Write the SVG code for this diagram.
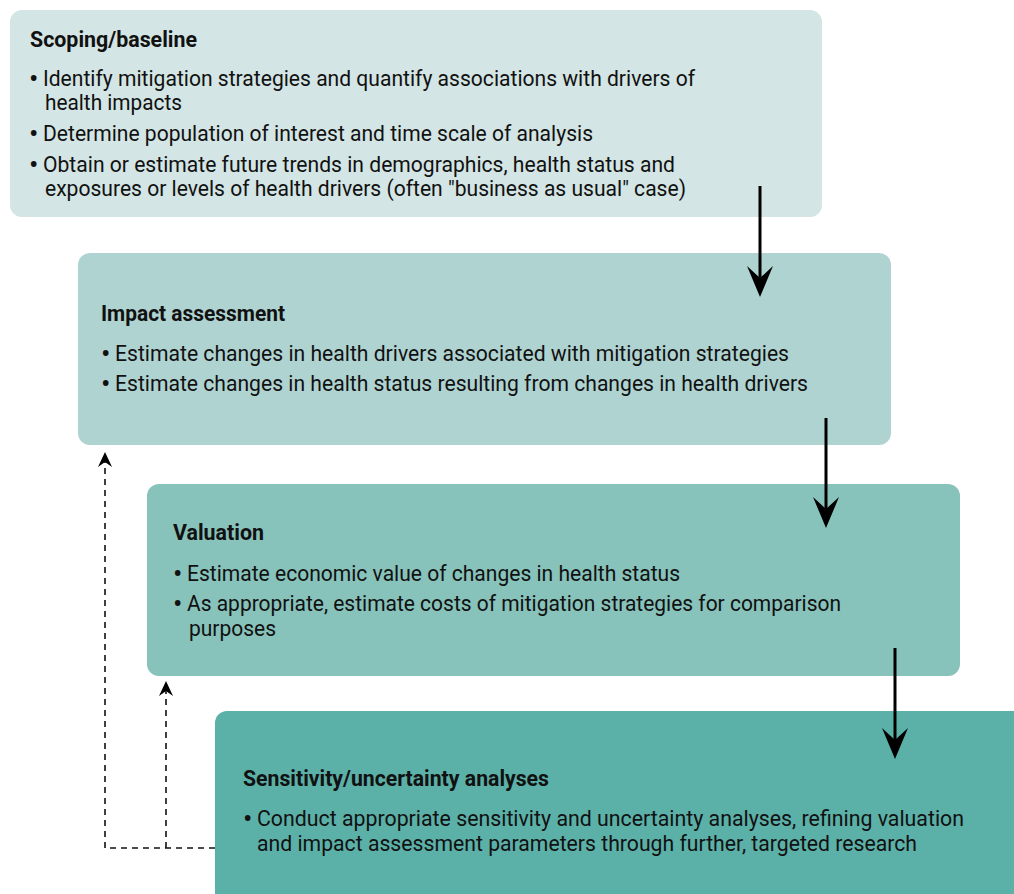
<svg xmlns="http://www.w3.org/2000/svg" width="1014" height="894" viewBox="0 0 1014 894">
<style>
text{font-family:Roboto,"Liberation Sans",sans-serif;font-size:22px;fill:#111}
.t{font-weight:bold;font-size:22.5px}
.b{font-size:28px}
.c{stroke:#000;stroke-width:3;fill:none}
.d{stroke:#111;stroke-width:1.6;fill:none;stroke-dasharray:6 5}
</style>
<defs>
<marker id="ah" markerUnits="userSpaceOnUse" markerWidth="32" markerHeight="28" refX="20" refY="14" orient="auto" viewBox="0 0 32 28">
<path d="M31 14 L0 1 L12 14 L0 27 Z" fill="#000"/>
</marker>
<marker id="ahs" markerUnits="userSpaceOnUse" markerWidth="16" markerHeight="14" refX="10" refY="7" orient="auto" viewBox="0 0 16 14">
<path d="M15 7 L0 0 L5 7 L0 14 Z" fill="#000"/>
</marker>
</defs>
<g id="n1">
<rect x="10" y="10" width="812" height="207" rx="12" fill="#d3e5e4"/>
<text class="t" x="30" y="47" textLength="167" lengthAdjust="spacingAndGlyphs">Scoping/baseline</text>
<text class="b" x="29" y="88">•</text>
<text x="43" y="86" textLength="652" lengthAdjust="spacingAndGlyphs">Identify mitigation strategies and quantify associations with drivers of</text>
<text x="45" y="110" textLength="137" lengthAdjust="spacingAndGlyphs">health impacts</text>
<text class="b" x="29" y="143">•</text>
<text x="43" y="141" textLength="550" lengthAdjust="spacingAndGlyphs">Determine population of interest and time scale of analysis</text>
<text class="b" x="29" y="174">•</text>
<text x="43" y="172" textLength="632" lengthAdjust="spacingAndGlyphs">Obtain or estimate future trends in demographics, health status and</text>
<text x="45" y="196" textLength="641" lengthAdjust="spacingAndGlyphs">exposures or levels of health drivers (often "business as usual" case)</text>
</g>
<g id="n2">
<rect x="78" y="253" width="813" height="192" rx="12" fill="#afd3d1"/>
<text class="t" x="101" y="321" textLength="184" lengthAdjust="spacingAndGlyphs">Impact assessment</text>
<text class="b" x="101" y="363">•</text>
<text x="115" y="361" textLength="674" lengthAdjust="spacingAndGlyphs">Estimate changes in health drivers associated with mitigation strategies</text>
<text class="b" x="101" y="393">•</text>
<text x="115" y="391" textLength="693" lengthAdjust="spacingAndGlyphs">Estimate changes in health status resulting from changes in health drivers</text>
</g>
<g id="n3">
<rect x="147" y="484" width="813" height="192" rx="12" fill="#87c2bb"/>
<text class="t" x="173" y="540" textLength="91" lengthAdjust="spacingAndGlyphs">Valuation</text>
<text class="b" x="173" y="583">•</text>
<text x="187" y="581" textLength="493" lengthAdjust="spacingAndGlyphs">Estimate economic value of changes in health status</text>
<text class="b" x="173" y="613">•</text>
<text x="187" y="611" textLength="654" lengthAdjust="spacingAndGlyphs">As appropriate, estimate costs of mitigation strategies for comparison</text>
<text x="189" y="636" textLength="87" lengthAdjust="spacingAndGlyphs">purposes</text>
</g>
<g id="n4">
<rect x="215" y="711" width="815" height="200" rx="12" fill="#5bb0a8"/>
<text class="t" x="243" y="786" textLength="306" lengthAdjust="spacingAndGlyphs">Sensitivity/uncertainty analyses</text>
<text class="b" x="243" y="828">•</text>
<text x="257" y="826" textLength="707" lengthAdjust="spacingAndGlyphs">Conduct appropriate sensitivity and uncertainty analyses, refining valuation</text>
<text x="257" y="851" textLength="660" lengthAdjust="spacingAndGlyphs">and impact assessment parameters through further, targeted research</text>
</g>
<g id="connectors">
<line class="c" x1="760" y1="186" x2="760" y2="286" marker-end="url(#ah)"/>
<line class="c" x1="826" y1="418" x2="826" y2="517" marker-end="url(#ah)"/>
<line class="c" x1="895" y1="648" x2="895" y2="748" marker-end="url(#ah)"/>
<polyline class="d" points="215,848 105,848 105,457" marker-end="url(#ahs)"/>
<polyline class="d" points="166,848 166,686" marker-end="url(#ahs)"/>
</g>
</svg>
